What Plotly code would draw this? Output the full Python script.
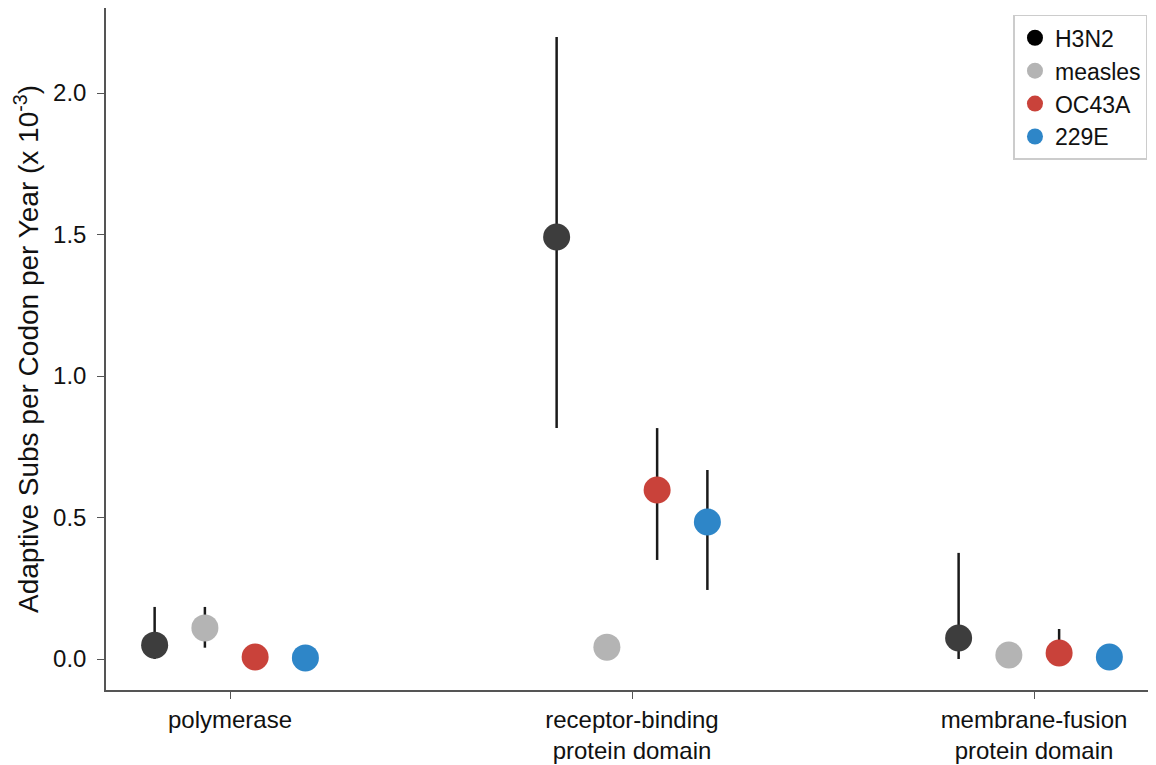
import plotly.graph_objects as go

categories = ["polymerase", "receptor-binding<br>protein domain", "membrane-fusion<br>protein domain"]
series = ["H3N2", "measles", "OC43A", "229E"]
colors = ["#3d3d3d", "#b4b4b4", "#c9423a", "#2e86c8"]
legend_colors = ["#000000", "#b4b4b4", "#c9423a", "#2e86c8"]
offsets = [-0.1875, -0.0625, 0.0625, 0.1875]

values = {
    "H3N2":    [0.049, 1.491, 0.074],
    "measles": [0.110, 0.042, 0.014],
    "OC43A":   [0.007, 0.597, 0.021],
    "229E":    [0.004, 0.484, 0.007],
}
upper = {
    "H3N2":    [0.184, 2.198, 0.375],
    "measles": [0.184, 0.042, 0.014],
    "OC43A":   [0.007, 0.816, 0.106],
    "229E":    [0.004, 0.668, 0.053],
}
lower = {
    "H3N2":    [0.000, 0.816, 0.000],
    "measles": [0.040, 0.042, 0.014],
    "OC43A":   [0.007, 0.350, 0.021],
    "229E":    [0.004, 0.244, 0.007],
}

fig = go.Figure()
for i, s in enumerate(series):
    xs = [c + offsets[i] for c in range(len(categories))]
    ys = values[s]
    fig.add_trace(go.Scatter(
        x=xs, y=ys, mode="markers", showlegend=False,
        marker=dict(size=27, color=colors[i], line=dict(width=0)),
        error_y=dict(type="data", symmetric=False,
                     array=[u - v for u, v in zip(upper[s], ys)],
                     arrayminus=[v - l for v, l in zip(ys, lower[s])],
                     width=0, thickness=2.5, color="#1a1a1a"),
    ))
for i, s in enumerate(series):
    fig.add_trace(go.Scatter(
        x=[None], y=[None], mode="markers", name=s,
        marker=dict(size=20, color=legend_colors[i]),
    ))

fig.update_layout(
    width=1140, height=757,
    margin=dict(l=98, r=0, t=0, b=75, autoexpand=False),
    paper_bgcolor="white", plot_bgcolor="white",
    font=dict(family="Liberation Sans, Arial, sans-serif", size=24, color="#111"),
    legend=dict(x=0.9995, y=0.99, xanchor="right", yanchor="top",
                bordercolor="#cccccc", borderwidth=1.5, bgcolor="white",
                font=dict(size=23), itemsizing="trace", tracegroupgap=0),
    xaxis=dict(range=[-0.3085, 2.2836], tickvals=[0, 1, 2], ticktext=categories,
               showgrid=False, zeroline=False, showline=True, linecolor="#555555",
               linewidth=1.5, mirror=True, ticks="outside", ticklen=7,
               tickcolor="#555555", tickfont=dict(size=24)),
    yaxis=dict(range=[-0.1095, 2.3004], tickvals=[0, 0.5, 1.0, 1.5, 2.0], tickformat=".1f",
               showgrid=False, zeroline=False, showline=True, linecolor="#555555",
               linewidth=1.5, mirror=True, ticks="outside", ticklen=7,
               ticklabelstandoff=6,
               tickcolor="#555555", tickfont=dict(size=24),
               title=dict(text="Adaptive Subs per Codon per Year (x 10<sup>-3</sup>)",
                          font=dict(size=28), standoff=6)),
)
fig.write_html("out.html")
